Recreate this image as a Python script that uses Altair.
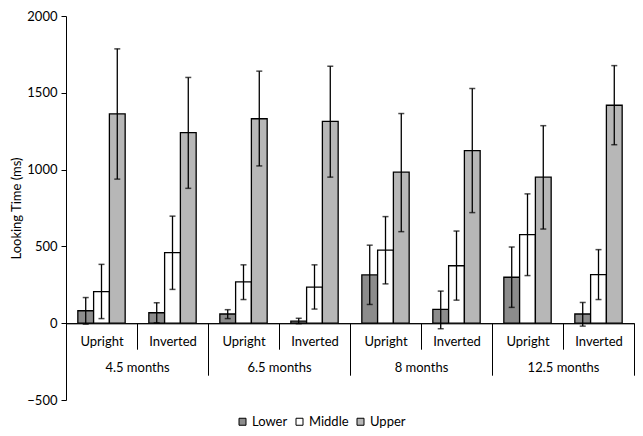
import altair as alt
import pandas as pd

ages = ["4.5 months", "6.5 months", "8 months", "12.5 months"]
orients = ["Upright", "Inverted"]
series = ["Lower", "Middle", "Upper"]
colors = ["#8c8c8c", "#ffffff", "#b7b7b7"]

lower = [81, 68, 60, 13, 314, 90, 299, 60]
lower_lo = [-6, 3, 30, -3, 122, -36, 103, -19]
lower_hi = [167, 133, 88, 32, 508, 209, 496, 135]
middle = [205, 459, 269, 235, 476, 374, 577, 316]
middle_lo = [30, 220, 154, 92, 256, 150, 310, 154]
middle_hi = [383, 697, 380, 380, 694, 600, 842, 479]
upper = [1363, 1241, 1331, 1314, 983, 1124, 951, 1419]
upper_lo = [938, 878, 1024, 951, 596, 720, 613, 1162]
upper_hi = [1786, 1600, 1641, 1673, 1365, 1528, 1286, 1677]

y_ticks = [-500, 0, 500, 1000, 1500, 2000]

conds = [f"{a} / {o}" for a in ages for o in orients]
vals = {"Lower": (lower, lower_lo, lower_hi),
        "Middle": (middle, middle_lo, middle_hi),
        "Upper": (upper, upper_lo, upper_hi)}
rows = []
for s in series:
    v, lo, hi = vals[s]
    for i, c in enumerate(conds):
        rows.append({"cond": c, "series": s, "value": v[i], "lo": lo[i], "hi": hi[i]})
df = pd.DataFrame(rows)
df_age = pd.DataFrame({"age": ages, "value": [0] * len(ages)})

TOP = 8
LEFT = 58
H = 384
W = 568
zero_off = -H * 500 / 2500

yscale = alt.Scale(domain=[-500, 2000], nice=False, zero=False)
y_axis = alt.Axis(values=y_ticks, format="d", grid=False, tickSize=5, labelPadding=4,
                  labelFontSize=13, labelColor="black", tickColor="black",
                  domainColor="black", titleFontSize=13, titleFontWeight="normal",
                  titleColor="black", titlePadding=3)
Y = alt.Y("value:Q", scale=yscale, title="Looking Time (ms)", axis=y_axis)

xscale = alt.Scale(paddingInner=0, paddingOuter=0)
offscale = alt.Scale(domain=series, paddingInner=0, paddingOuter=0.75)

x_axis = alt.Axis(orient="bottom", offset=zero_off, tickBand="extent",
                  tickSize=26, labelPadding=-8, labelBaseline="middle",
                  labelExpr="split(datum.label, ' / ')[1]", labelAngle=0,
                  labelFontSize=13, labelColor="black", tickColor="black",
                  domainColor="black", labelFlush=False)
X = alt.X("cond:N", sort=conds, scale=xscale, title=None, axis=x_axis)
xo = alt.XOffset("series:N", sort=series, scale=offscale)

bars = alt.Chart(df).mark_bar(stroke="black", strokeWidth=1.3).encode(
    x=X,
    xOffset=xo,
    y=Y,
    fill=alt.Fill("series:N", sort=series,
                  scale=alt.Scale(domain=series, range=colors),
                  legend=alt.Legend(title=None, orient="none", direction="horizontal",
                                    legendX=170, legendY=399, symbolType="square",
                                    symbolSize=49, symbolStrokeColor="black",
                                    symbolStrokeWidth=1, labelFontSize=13,
                                    labelColor="black", columnPadding=5, labelOffset=3)),
)

rules = alt.Chart(df).mark_rule(color="black", strokeWidth=1.3).encode(
    x=X,
    xOffset=xo,
    y=alt.Y("lo:Q", scale=yscale),
    y2="hi:Q",
)
caps_hi = alt.Chart(df).mark_tick(color="black", thickness=1.5, size=6).encode(
    x=X,
    xOffset=xo,
    y=alt.Y("hi:Q", scale=yscale),
)
caps_lo = alt.Chart(df).mark_tick(color="black", thickness=1.5, size=6).encode(
    x=X,
    xOffset=xo,
    y=alt.Y("lo:Q", scale=yscale),
)

age_layer = alt.Chart(df_age).mark_point(opacity=0).encode(
    x=alt.X("age:N", sort=ages, title=None,
            scale=alt.Scale(paddingInner=0, paddingOuter=0),
            axis=alt.Axis(orient="bottom", offset=zero_off, tickBand="extent",
                          tickSize=52, labelPadding=-8, labelBaseline="middle",
                          labelAngle=0, labelFontSize=13, labelColor="black",
                          tickColor="black", domainColor="black", labelFlush=False)),
    y=Y,
)

main = alt.layer(bars, rules, caps_hi, caps_lo)

chart = alt.layer(main, age_layer).resolve_scale(x="independent").properties(
    width=W, height=H,
    autosize=alt.AutoSizeParams(type="none"),
    padding={"left": LEFT, "top": TOP, "right": 627 - LEFT - W, "bottom": 420 - TOP - H},
).configure(font="Lato").configure_view(stroke=None)

chart.save("out.html", embed_options={"renderer": "svg", "actions": False})
